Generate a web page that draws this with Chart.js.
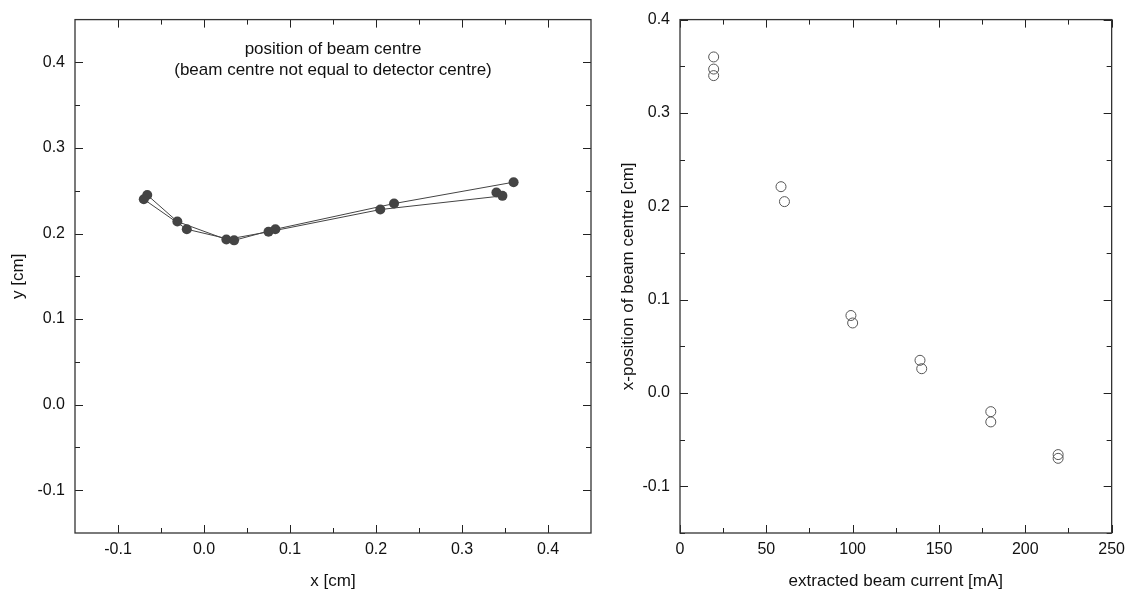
<!DOCTYPE html>
<html>
<head>
<meta charset="utf-8">
<script src="https://cdn.jsdelivr.net/npm/chart.js@4/dist/chart.umd.min.js"></script>
<style>
  html, body { margin: 0; padding: 0; background: #fff; }
  #wrap { position: relative; width: 1132px; height: 596px; }
  .panel { position: absolute; top: 0; height: 596px; }
  #left  { left: 0;   width: 600px; }
  #right { left: 600px; width: 532px; }
</style>
</head>
<body>
<div id="wrap">
  <div class="panel" id="left"><canvas id="posChart"></canvas></div>
  <div class="panel" id="right"><canvas id="currentChart"></canvas></div>
</div>
<script>
// Beam centre measurements, two current scans
const run1Current = [19.5, 58.5, 99, 139, 180, 219];
const run1X       = [0.360, 0.221, 0.083, 0.035, -0.020, -0.070];
const run1Y       = [0.260, 0.235, 0.205, 0.192, 0.205, 0.240];

const run2Current = [19.5, 19.5, 60.5, 100, 140, 180, 219];
const run2X       = [0.340, 0.347, 0.205, 0.075, 0.026, -0.031, -0.066];
const run2Y       = [0.248, 0.244, 0.228, 0.202, 0.193, 0.214, 0.245];

// Axis ticks
const posMajor     = [-0.1, 0.0, 0.1, 0.2, 0.3, 0.4];
const posMinor     = [-0.05, 0.05, 0.15, 0.25, 0.35];
const currentMajor = [0, 50, 100, 150, 200, 250];
const currentMinor = [25, 75, 125, 175, 225];

const noteLines = ['position of beam centre', '(beam centre not equal to detector centre)'];

const FONT = '"Liberation Sans", Arial, Helvetica, sans-serif';
const INK  = '#111';
const DOT  = '#444';

const pts = (xs, ys) => xs.map((x, i) => ({ x: x, y: ys[i] }));

// inward tick marks on all four sides plus the frame
const frameTicks = {
  id: 'frameTicks',
  afterDatasetsDraw(chart, args, opts) {
    const { ctx, chartArea: a } = chart;
    ctx.save();
    ctx.strokeStyle = '#222';
    ctx.lineWidth = 1;
    const marks = (scale, values, len) => {
      values.forEach(v => {
        const p = Math.round(scale.getPixelForValue(v)) + 0.5;
        ctx.beginPath();
        if (scale.isHorizontal()) {
          ctx.moveTo(p, a.bottom); ctx.lineTo(p, a.bottom - len);
          ctx.moveTo(p, a.top);    ctx.lineTo(p, a.top + len);
        } else {
          ctx.moveTo(a.left, p);  ctx.lineTo(a.left + len, p);
          ctx.moveTo(a.right, p); ctx.lineTo(a.right - len, p);
        }
        ctx.stroke();
      });
    };
    const sx = chart.scales.x, sy = chart.scales.y;
    marks(sx, opts.xMajor, 8); marks(sx, opts.xMinor, 5);
    marks(sy, opts.yMajor, 8); marks(sy, opts.yMinor, 5);
    ctx.lineWidth = 1.3;
    ctx.strokeStyle = '#333';
    ctx.strokeRect(a.left, a.top, a.right - a.left, a.bottom - a.top);
    ctx.restore();
  }
};

// two-line caption inside the plot area
const plotNote = {
  id: 'plotNote',
  afterDraw(chart, args, opts) {
    if (!opts.lines) return;
    const { ctx, chartArea: a } = chart;
    ctx.save();
    ctx.font = '17px ' + FONT;
    ctx.fillStyle = INK;
    ctx.textAlign = 'center';
    ctx.textBaseline = 'middle';
    opts.lines.forEach((t, i) => ctx.fillText(t, (a.left + a.right) / 2, a.top + 30 + i * 21));
    ctx.restore();
  }
};

function axis(min, max, major, title, isY, axisSize, titlePad, fmt) {
  return {
    type: 'linear',
    min: min,
    max: max,
    afterBuildTicks: s => { s.ticks = major.map(v => ({ value: v })); },
    afterFit: s => { if (isY) s.width = axisSize; else s.height = axisSize; },
    grid: { display: false, drawTicks: false },
    border: { display: false },
    ticks: {
      padding: isY ? 10 : 7,
      color: INK,
      font: { family: FONT, size: 16 },
      callback: fmt
    },
    title: {
      display: true,
      text: title,
      color: INK,
      font: { family: FONT, size: 17 },
      padding: isY ? { top: titlePad } : { bottom: titlePad }
    }
  };
}

const baseOptions = {
  responsive: true,
  maintainAspectRatio: false,
  animation: false,
  events: [],
  plugins: { legend: { display: false }, tooltip: { enabled: false } }
};

const fmt1 = v => Number(v).toFixed(1);
const fmt0 = v => String(v);

// -------------------------------------------------------------------
// y vs x position of the beam centre
// -------------------------------------------------------------------
new Chart(document.getElementById('posChart'), {
  type: 'scatter',
  data: {
    datasets: [run1X, run2X].map((xs, k) => ({
      data: pts(xs, k === 0 ? run1Y : run2Y),
      showLine: true,
      borderColor: DOT,
      borderWidth: 1,
      pointRadius: 5,
      pointBackgroundColor: DOT,
      pointBorderColor: DOT,
      pointBorderWidth: 0
    }))
  },
  options: {
    ...baseOptions,
    layout: { padding: { top: 17, right: 9, left: 0, bottom: 0 } },
    scales: {
      x: axis(-0.15, 0.45, posMajor, 'x [cm]', false, 63, 4, fmt1),
      y: axis(-0.15, 0.45, posMajor, 'y [cm]', true, 75, 8, fmt1)
    },
    plugins: {
      ...baseOptions.plugins,
      frameTicks: { xMajor: posMajor, xMinor: posMinor, yMajor: posMajor, yMinor: posMinor },
      plotNote: { lines: noteLines }
    }
  },
  plugins: [frameTicks, plotNote]
});

// -------------------------------------------------------------------
// x position vs extracted beam current
// -------------------------------------------------------------------
new Chart(document.getElementById('currentChart'), {
  type: 'scatter',
  data: {
    datasets: [
      { data: pts(run1Current, run1X) },
      { data: pts(run2Current, run2X) }
    ].map(d => ({
      ...d,
      pointRadius: 5,
      pointBackgroundColor: 'rgba(255,255,255,0)',
      pointBorderColor: '#555',
      pointBorderWidth: 1
    }))
  },
  options: {
    ...baseOptions,
    layout: { padding: { top: 15, right: 20, left: 0, bottom: 0 } },
    scales: {
      x: axis(0, 250, currentMajor, 'extracted beam current [mA]', false, 63, 4, fmt0),
      y: axis(-0.15, 0.4, posMajor, 'x-position of beam centre [cm]', true, 80, 18, fmt1)
    },
    plugins: {
      ...baseOptions.plugins,
      frameTicks: { xMajor: currentMajor, xMinor: currentMinor, yMajor: posMajor, yMinor: posMinor.concat([-0.15]) },
      plotNote: {}
    }
  },
  plugins: [frameTicks, plotNote]
});
</script>
</body>
</html>
